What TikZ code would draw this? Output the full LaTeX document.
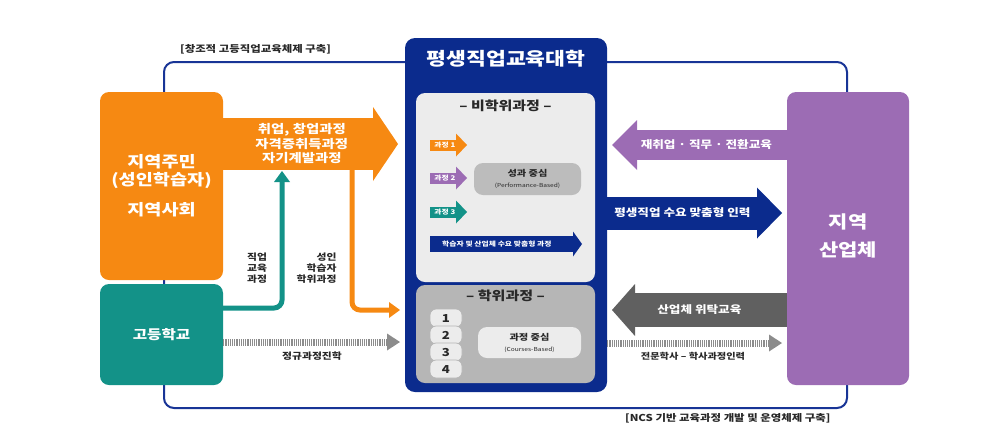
\documentclass[tikz,border=0pt]{standalone}
\usepackage{fontspec}
\setmainfont{Noto Sans CJK KR}[FakeStretch=1.2]
\usetikzlibrary{arrows.meta, positioning, calc}

\definecolor{orangebox}{RGB}{246,137,18}
\definecolor{tealbox}{RGB}{19,146,136}
\definecolor{purplebox}{RGB}{156,108,180}
\definecolor{navybox}{RGB}{11,43,141}
\definecolor{frameline}{RGB}{24,52,150}
\definecolor{lightpanel}{RGB}{236,236,236}
\definecolor{greypanel}{RGB}{182,182,182}
\definecolor{midbox}{RGB}{188,188,188}
\definecolor{chipfill}{RGB}{236,236,236}
\definecolor{darkarrow}{RGB}{96,96,96}
\definecolor{dotgrey}{RGB}{140,140,140}
\definecolor{labeltext}{RGB}{40,40,40}

\tikzset{
  frame/.style = {rectangle, draw=frameline, line width=2pt, rounded corners=10pt, inner sep=0pt},
  caption/.style = {font=\bfseries\fontsize{9.5}{10}\selectfont, text=labeltext, inner sep=0pt},
  region/.style = {rectangle, rounded corners=9pt, text=white, align=center, inner sep=0pt},
  panel/.style = {rectangle, rounded corners=9pt, minimum width=179pt, inner sep=0pt},
  heading/.style = {font=\bfseries\fontsize{12.5}{13}\selectfont, text=labeltext},
  centre/.style = {rectangle, rounded corners=9pt, align=center, text=labeltext, inner sep=0pt},
  chip/.style = {rectangle, rounded corners=6pt, fill=chipfill, draw=greypanel, line width=0.8pt, minimum width=32pt, minimum height=18pt, inner sep=0pt, font=\bfseries\fontsize{11}{11}\selectfont, text=labeltext},
  note/.style = {font=\bfseries\fontsize{9}{11}\selectfont, text=labeltext, align=center},
  bigarrow/.style n args = {4}{draw=#1, line width=#2, -{Triangle[length=#3, width=#4, line width=0pt]}},
  link/.style = {draw=#1, line width=5pt, rounded corners=8pt, -{Triangle[length=11pt, width=16pt, line width=0pt]}},
  dotlink/.style = {draw=dotgrey, line width=7pt, dash pattern=on 1.1pt off 1.1pt, -{Triangle[length=13pt, width=17pt, line width=0pt]}},
  arrowtext/.style 2 args = {text=white, align=center, font=\bfseries\fontsize{#1}{#2}\selectfont}
}

\begin{document}
\begin{tikzpicture}[x=1pt, y=-1pt]
  \useasboundingbox (0,0) rectangle (995,437);

  % outer frame with its captions
  \node[frame, minimum width=683pt, minimum height=346pt] (frame) at (505.5,235) {};
  \node[caption, anchor=west] (toptag) at (180,49) {[창조적 고등직업교육체제 구축]};
  \node[caption, anchor=west] (bottomtag) at (625,418) {[NCS 기반 교육과정 개발 및 운영체제 구축]};

  % left column
  \node[region, fill=orangebox, minimum width=123pt, minimum height=188pt,
        font=\bfseries\fontsize{15.5}{18}\selectfont] (resident) at (161.5,186) {\mbox{}\\[-6pt]지역주민\\(성인학습자)\\[12pt]지역사회};
  \node[region, fill=tealbox, minimum width=123pt, minimum height=101pt,
        font=\bfseries\fontsize{13}{14}\selectfont] (school) at (161.5,334.5) {고등학교};

  % right column
  \node[region, fill=purplebox, minimum width=122pt, minimum height=293pt,
        font=\bfseries\fontsize{17.5}{28}\selectfont] (industry) at (848,238.5) {지역\\산업체\\[-22pt]\mbox{}};

  % centre: the college with its two panels
  \node[region, fill=navybox, rounded corners=10pt, minimum width=202pt, minimum height=354pt] (college) at (506,215) {};
  \node[text=white, font=\bfseries\fontsize{18}{18}\selectfont] (collegetitle) at (506,59) {평생직업교육대학};
  \node[panel, fill=lightpanel, minimum height=189pt] (nondegree) at (505.5,187.5) {};
  \node[panel, fill=greypanel, minimum height=98pt] (degree) at (505.5,334) {};
  \node[heading] (nondegreetitle) at (505.5,106) {– 비학위과정 –};
  \node[heading] (degreetitle) at (505.5,296) {– 학위과정 –};

  \node[centre, fill=midbox, minimum width=107pt, minimum height=32pt] (performance) at (527.5,179)
    {{\bfseries\fontsize{8.5}{9}\selectfont 성과 중심}\\[-1pt]{\fontsize{5.5}{6}\selectfont (Performance-Based)}};
  \node[centre, fill=chipfill, minimum width=103pt, minimum height=31pt] (courses) at (529.5,342.5)
    {{\bfseries\fontsize{8.5}{9}\selectfont 과정 중심}\\[-1pt]{\fontsize{5.5}{6}\selectfont (Courses-Based)}};

  \foreach \n/\y in {1/318, 2/335, 3/352, 4/369}
    \node[chip] (chip\n) at (446,\y) {\n};

  % small course arrows
  \foreach \n/\y/\c in {1/145/orangebox, 2/178/purplebox, 3/212/tealbox}
    \draw[bigarrow={\c}{11pt}{11pt}{23pt}] (430,\y) -- (467,\y)
      node[arrowtext={6.5}{7}, pos=0.4] {과정 \n};
  \draw[bigarrow={navybox}{16pt}{9pt}{25pt}] (430,244) -- (582,244)
    node[arrowtext={6.5}{7}, pos=0.44] {학습자 및 산업체 수요 맞춤형 과정};

  % arrows on the left
  \draw[bigarrow={orangebox}{52pt}{25pt}{74pt}] (resident.east |- 0,144) -- (398,144)
    node[arrowtext={12}{14.5}, pos=0.45] {취업, 창업과정\\자격증취득과정\\자기계발과정};
  \draw[link=tealbox] (school.east |- 0,308) -| (282,171);
  \draw[link=orangebox] (352,168) |- (400,310);
  \draw[dotlink] (school.east |- 0,342) -- (400,342);

  \node[note] (joblabel) at (257,268) {직업\\교육\\과정};
  \node[note, align=right, anchor=east] (adultlabel) at (340,268) {성인\\학습자\\학위과정};
  \node[note] (regularlabel) at (312,356) {정규과정진학};

  % arrows on the right
  \draw[bigarrow={purplebox}{30pt}{25pt}{50pt}] (industry.west |- 0,145) -- (612,145)
    node[arrowtext={10.5}{12}, pos=0.46] {재취업 · 직무 · 전환교육};
  \draw[bigarrow={navybox}{33pt}{25pt}{51pt}] (college.east |- 0,213) -- (782,213)
    node[arrowtext={10.5}{12}, pos=0.43] {평생직업 수요 맞춤형 인력};
  \draw[bigarrow={darkarrow}{34pt}{23pt}{52pt}] (industry.west |- 0,310) -- (612,310)
    node[arrowtext={10.5}{12}, pos=0.5] {산업체 위탁교육};
  \draw[dotlink] (college.east |- 0,343) -- (782,343);
  \node[note, font=\bfseries\fontsize{8.5}{11}\selectfont] (bachelorlabel) at (693,356) {전문학사 – 학사과정인력};

\end{tikzpicture}
\end{document}
